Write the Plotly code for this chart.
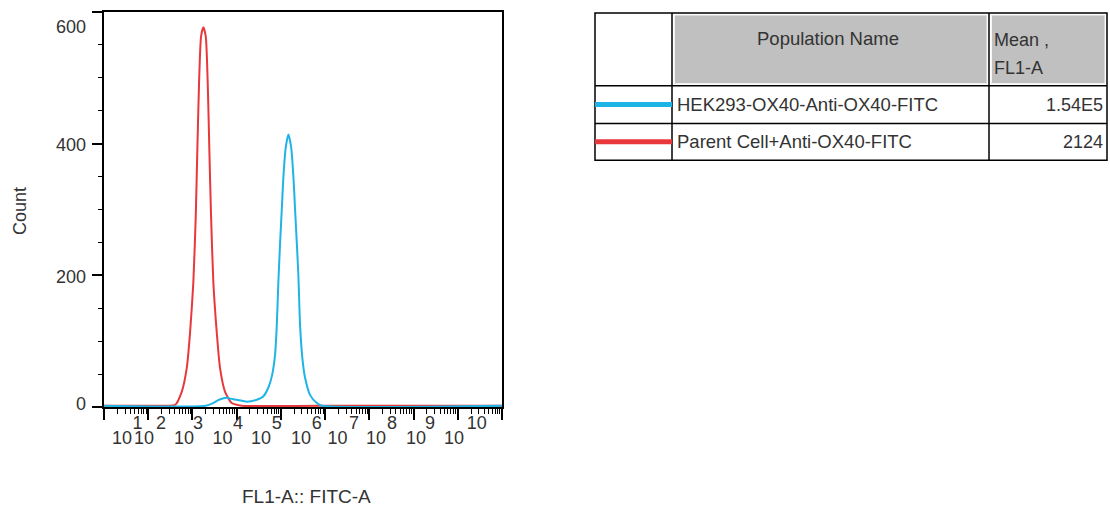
import plotly.graph_objects as go

# ---------------- data ----------------
# FL1-A (FITC-A) intensity, as log10 exponents, and the histogram counts
red_log_fitc = [1.0, 2.40, 2.606, 2.758, 2.871, 2.946, 3.020, 3.075, 3.111, 3.149, 3.195,
                3.247, 3.301, 3.346, 3.382, 3.421, 3.473, 3.550, 3.624, 3.738, 3.889,
                4.115, 5.90, 10.0]
red_count = [2, 2, 3, 23, 59, 113, 189, 290, 391, 491, 563,
             577, 563, 491, 391, 290, 189, 113, 59, 23, 6,
             2, 2, 2]

blue_log_fitc = [1.0, 3.30, 3.466, 3.60, 3.776, 3.90, 4.002, 4.228, 4.455, 4.600, 4.720,
                 4.800, 4.869, 4.907, 4.943, 4.982, 5.020, 5.057, 5.111, 5.170, 5.231,
                 5.283, 5.321, 5.360, 5.396, 5.434, 5.486, 5.548, 5.661, 5.812, 5.925, 10.0]
blue_count = [2, 2, 6, 11, 14, 12, 11, 8, 11, 16, 30,
              48, 80, 124, 190, 249, 300, 350, 395, 414, 395,
              350, 300, 249, 199, 124, 74, 44, 18, 6, 2, 2]

population_names = ["HEK293-OX40-Anti-OX40-FITC", "Parent Cell+Anti-OX40-FITC"]
mean_fl1a = ["1.54E5", "2124"]
population_colors = ["#1fb4e6", "#e8383b"]

x_decades = list(range(1, 11))                      # 10^1 ... 10^10
y_major = [0, 200, 400, 600]
y_labels = ["0", "200", "400", "600"]

# ---------------- layout helpers (screen pixels of the 1110x508 window) ----------------
W, H = 1110, 508
L, R, T, B = 104, 502, 10, 407            # plot area, pixels


def px(xp):
    return (xp - L) / (R - L)


def py(yp):
    return (B - yp) / (B - T)


def dec(xp):
    return 1 + (xp - L) / ((R - L) / 9)


def cnt(yp):
    return (B - yp) / ((B - T) / 600)


FONT = "Liberation Sans, Arial, sans-serif"
TXT = "#333333"

# positions of the (oddly spaced) tick labels as drawn in the picture
base_label_px = [122, 144, 184, 222.5, 261, 301, 337.5, 376, 416, 454]
exp_label_px = [137.5, 161, 198, 238, 276.7, 316.7, 354, 392, 430, 476.7]
y_label_py = [404, 276.5, 143, 25]

fig = go.Figure()

fig.add_trace(go.Scatter(
    x=[10 ** v for v in red_log_fitc], y=red_count, mode="lines",
    line=dict(color=population_colors[1], width=2, shape="spline", smoothing=0.6),
    name=population_names[1], showlegend=False, hoverinfo="skip"))
fig.add_trace(go.Scatter(
    x=[10 ** v for v in blue_log_fitc], y=blue_count, mode="lines",
    line=dict(color=population_colors[0], width=2, shape="spline", smoothing=0.6),
    name=population_names[0], showlegend=False, hoverinfo="skip"))

# empty traces so the overlay label axes are built
for ax in ["x2", "x3"]:
    fig.add_trace(go.Scatter(x=[], y=[], xaxis=ax, yaxis="y", showlegend=False))
fig.add_trace(go.Scatter(x=[], y=[], xaxis="x", yaxis="y2", showlegend=False))

minor_x = [m * 10 ** d for d in range(1, 10) for m in range(2, 10)]

fig.update_layout(
    width=W, height=H,
    margin=dict(l=L, r=W - R, t=T, b=H - B, pad=0),
    paper_bgcolor="white", plot_bgcolor="white",
    font=dict(family=FONT, size=18, color=TXT),
    xaxis=dict(type="log", range=[1, 10], showgrid=False, zeroline=False,
               showline=True, linecolor="black", linewidth=2, mirror=True,
               ticks="outside", ticklen=11, tickwidth=1.5, tickcolor="black",
               tickvals=[10 ** d for d in x_decades], showticklabels=False,
               minor=dict(tickvals=minor_x, ticks="outside", ticklen=5,
                          tickwidth=1, tickcolor="black", showgrid=False)),
    xaxis2=dict(type="log", range=[1, 10], overlaying="x", anchor="y", side="bottom",
                showgrid=False, zeroline=False, showline=False, ticks="",
                tickvals=[10 ** dec(p) for p in base_label_px],
                ticktext=["10"] * len(x_decades), tickangle=0,
                ticklabelstandoff=18, tickfont=dict(size=18, color=TXT)),
    xaxis3=dict(type="log", range=[1, 10], overlaying="x", anchor="y", side="bottom",
                showgrid=False, zeroline=False, showline=False, ticks="",
                tickvals=[10 ** dec(p) for p in exp_label_px],
                ticktext=[str(d) for d in x_decades], tickangle=0,
                ticklabelstandoff=3, tickfont=dict(size=18, color=TXT)),
    yaxis=dict(range=[0, 600], showgrid=False, zeroline=False,
               showline=True, linecolor="black", linewidth=2, mirror=True,
               ticks="outside", ticklen=10, tickwidth=1.5, tickcolor="black",
               tickvals=y_major, showticklabels=False,
               minor=dict(dtick=50, ticks="outside", ticklen=4, tickwidth=1,
                          tickcolor="black", showgrid=False)),
    yaxis2=dict(range=[0, 600], overlaying="y", anchor="x", side="left",
                showgrid=False, zeroline=False, showline=False, ticks="",
                tickvals=[cnt(p) for p in y_label_py], ticktext=y_labels,
                ticklabelstandoff=17, tickfont=dict(size=18, color=TXT)),
)


def note(text, x, y, xa="center", size=18, angle=0):
    fig.add_annotation(text=text, x=px(x), y=py(y), xref="paper", yref="paper",
                       xanchor=xa, yanchor="middle", textangle=angle, showarrow=False,
                       font=dict(size=size, color=TXT), borderpad=0)


# axis titles
note("Count", 20, 210, angle=-90)
note("FL1-A:: FITC-A", 306.5, 497, size=19)

# ---------------- statistics table ----------------
tx0, tx1, tx2, tx3 = 595, 672, 989, 1107
ty0, ty1, ty2, ty3 = 11, 84, 122, 159

shapes = []
# grey header cells (bevelled)
for a, b in [(tx1 + 2.5, tx2 - 2), (tx2 + 2.5, tx3 - 2)]:
    shapes.append(dict(type="rect", xref="paper", yref="paper",
                       x0=px(a), x1=px(b), y0=py(ty0 + 2), y1=py(ty1 - 2),
                       fillcolor="#c0c0c0", line=dict(color="#f4f4f4", width=1)))
# outer frame
shapes.append(dict(type="rect", xref="paper", yref="paper",
                   x0=px(tx0), x1=px(tx3), y0=py(ty0), y1=py(ty3),
                   line=dict(color="black", width=1.5)))
for xv in [tx1, tx2]:
    shapes.append(dict(type="line", xref="paper", yref="paper",
                       x0=px(xv), x1=px(xv), y0=py(ty0), y1=py(ty3),
                       line=dict(color="black", width=1.5)))
for yv in [ty1, ty2]:
    shapes.append(dict(type="line", xref="paper", yref="paper",
                       x0=px(tx0), x1=px(tx3), y0=py(yv), y1=py(yv),
                       line=dict(color="black", width=1.5)))
row_mid = [(ty1 + ty2) / 2, (ty2 + ty3) / 2]
for i, c in enumerate(population_colors):
    shapes.append(dict(type="line", xref="paper", yref="paper",
                       x0=px(tx0), x1=px(tx1), y0=py(row_mid[i]), y1=py(row_mid[i]),
                       line=dict(color=c, width=5)))
fig.update_layout(shapes=shapes)

note("Population Name", 828, 37, size=18.5)
note("Mean ,", 993, 38, xa="left", size=18)
note("FL1-A", 993, 66, xa="left", size=18)
for i, name in enumerate(population_names):
    note(name, 676, row_mid[i], xa="left", size=18.5)
    note(mean_fl1a[i], 1104, row_mid[i], xa="right", size=18)

# the page body has a default margin; remove it so the figure fills the window exactly
fig.write_html(
    "out.html",
    config={"displayModeBar": False},
    post_script=("document.documentElement.style.overflow='hidden';"
                 "document.body.style.margin='0';"
                 "document.body.style.overflow='hidden';"))
